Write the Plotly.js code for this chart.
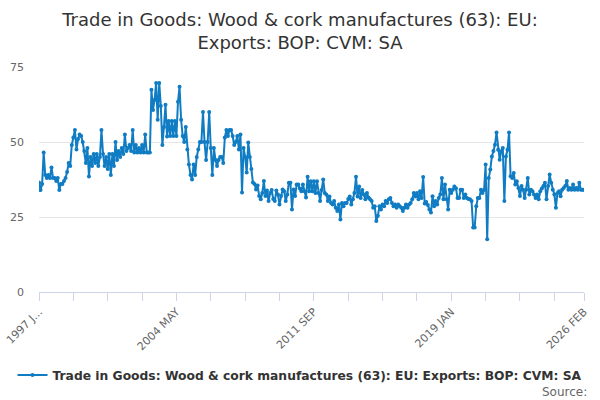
<!DOCTYPE html>
<html>
<head>
<meta charset="utf-8">
<script src="https://cdn.plot.ly/plotly-3.0.1.min.js"></script>
<style>
  html, body { margin: 0; padding: 0; background: #fff; }
  #chart { width: 600px; height: 400px; }
</style>
</head>
<body>
<div id="chart"></div>
<script>
const series_name = "Trade in Goods: Wood & cork manufactures (63): EU: Exports: BOP: CVM: SA";
const month_names = ["JAN", "FEB", "MAR", "APR", "MAY", "JUN", "JUL", "AUG", "SEP", "OCT", "NOV", "DEC"];
const start_year = 1997;

// monthly values, 1997 JAN .. 2026 FEB
const values = [
  36.5, 34, 36, 46.5, 39, 38, 39, 38, 41.5, 38,
  38, 37, 38, 34, 36, 36, 37, 38, 40, 43,
  42, 49, 51.5, 54, 47.5, 51, 52.5, 52, 50, 47,
  43, 48, 38.5, 45, 42, 46, 43, 46, 42, 45,
  54, 46, 42, 45, 41, 46, 39, 46, 42, 50,
  44, 47, 45, 48, 46, 52.5, 47, 48, 49, 47,
  54, 46.5, 49, 46.5, 48, 46.5, 49, 46.5, 52.5, 46.5,
  46.5, 46.5, 67.4, 60.7, 64, 69.7, 57.4, 69.7, 62, 49,
  55, 62.4, 51.8, 57, 52, 57, 52, 57, 52, 63.4,
  68.4, 57.4, 52, 50, 55, 47.5, 42.5, 39, 37.5, 42.5,
  39, 45, 47.5, 50, 50, 60, 50, 44, 50, 60,
  48, 39, 48, 44, 42, 44, 45, 45, 43, 51.5,
  54, 52, 54, 54, 52, 49, 50, 52, 47.5, 52.5,
  33.2, 48, 45, 39.8, 49.8, 45, 41, 36.5, 36, 34.2,
  35.5, 32, 30.9, 33, 37, 32, 33.8, 30.3, 33, 34,
  31, 30.3, 33.8, 32.5, 29.2, 32, 34.2, 33.6, 30.3, 32.5,
  36.4, 36.4, 27.5, 34.2, 32, 35.8, 35.8, 34.5, 33.6, 35.8,
  33.6, 31.5, 38.4, 33.6, 36.9, 33.6, 36.9, 33, 36.9, 33,
  30.3, 34, 37.5, 33, 32.5, 30.3, 31.8, 29.7, 29.2, 30.3,
  28.1, 27, 29.2, 24.2, 29.7, 28.6, 29.7, 29.7, 31, 31.8,
  29.2, 30.9, 33, 38.4, 31.8, 35.2, 31.3, 34, 32.5, 30.9,
  33, 31.5, 30.9, 30.3, 28.1, 28.6, 23.7, 25.4, 28.6, 27.5,
  29.2, 28.6, 30.3, 29.7, 30.9, 31.3, 29.7, 28.6, 29.2, 28.1,
  29.2, 28.6, 28.1, 27, 28.1, 29.2, 28.1, 29.2, 29.7, 30.9,
  33, 31.8, 33, 30.9, 33.6, 31.3, 38.3, 29.5, 30, 29,
  27.5, 26.5, 31.9, 28.6, 30.3, 29.2, 31.3, 32.5, 38, 30.9,
  35.8, 30.9, 27.5, 34.1, 33, 34.1, 35.2, 34.6, 31.3, 31.3,
  34.1, 34.1, 31.3, 32.5, 31.3, 31, 30.9, 30.3, 21.5, 21.5,
  28.6, 31.3, 31.3, 34.1, 33, 34, 42.5, 17.6, 38, 40.8,
  45.2, 47, 49.1, 53.2, 47.4, 44.1, 46.9, 48, 30.3, 45.2,
  47.4, 53.2, 38.6, 38, 39.7, 35.8, 36.9, 34.7, 32, 35.3,
  34.1, 31.3, 34.1, 38, 32.5, 34.1, 33.6, 32.5, 31.3, 32.5,
  30.9, 33.6, 34.5, 35.3, 36.4, 30.9, 35.3, 39.2, 36.4, 34.1,
  32.5, 28.1, 33, 33.6, 31.9, 34.1, 34.7, 35.3, 37, 34.1,
  34.7, 34.1, 35.8, 34.1, 34.7, 34.1, 36.4, 34.1, 34.1, 34.1
];

let months = [];
for (let i = 0; i < values.length; i++) {
  months.push((start_year + Math.floor(i / 12)) + " " + month_names[i % 12]);
}

// tick every 22 months, label every 88, plus the last month
let tick_vals = [];
let tick_text = [];
for (let i = 0; i < months.length - 10; i += 22) {
  tick_vals.push(months[i]);
  tick_text.push(i % 88 === 0 ? months[i] : "");
}
tick_vals.push(months[months.length - 1]);
tick_text.push(months[months.length - 1]);
tick_text[0] = "1997 J...";

const y_ticks = [0, 25, 50, 75];

let trace = {
  x: months,
  y: values,
  type: "scatter",
  mode: "lines+markers",
  name: series_name,
  line: { color: "#0f7cc3", width: 2 },
  marker: { color: "#0f7cc3", size: 4 },
  hoverinfo: "none"
};

let layout = {
  width: 600,
  height: 400,
  margin: { l: 39, r: 16, t: 67, b: 107 },
  paper_bgcolor: "#ffffff",
  plot_bgcolor: "#ffffff",
  font: { family: "DejaVu Sans, sans-serif", color: "#666666" },
  title: {
    text: "Trade in Goods: Wood & cork manufactures (63): EU:<br>Exports: BOP: CVM: SA",
    font: { size: 18, color: "#333333" },
    x: 0.5,
    xanchor: "center",
    yref: "container",
    y: 0.935,
    yanchor: "top"
  },
  xaxis: {
    type: "category",
    range: [0, months.length - 1],
    tickmode: "array",
    tickvals: tick_vals,
    ticktext: tick_text,
    tickangle: -45,
    ticks: "outside",
    ticklen: 8,
    tickcolor: "#ccd6eb",
    showline: true,
    linecolor: "#ccd6eb",
    linewidth: 1,
    showgrid: false,
    zeroline: false,
    tickfont: { size: 11, color: "#666666" }
  },
  yaxis: {
    range: [0, 75],
    tickmode: "array",
    tickvals: y_ticks,
    showgrid: true,
    gridcolor: "#e6e6e6",
    zeroline: false,
    showline: false,
    ticks: "",
    ticklabelstandoff: 14,
    tickfont: { size: 11, color: "#666666" }
  },
  showlegend: true,
  legend: {
    orientation: "h",
    x: 0.478,
    xanchor: "center",
    y: -0.363,
    yanchor: "middle",
    itemwidth: 30,
    font: { size: 12.3, color: "#333333", weight: "bold" }
  },
  annotations: [{
    text: "Source:",
    xref: "paper",
    yref: "paper",
    x: 1.01,
    y: -0.445,
    xanchor: "right",
    yanchor: "middle",
    showarrow: false,
    font: { size: 12, color: "#666666" }
  }]
};

Plotly.newPlot("chart", [trace], layout, { displayModeBar: false, staticPlot: true });
</script>
</body>
</html>
